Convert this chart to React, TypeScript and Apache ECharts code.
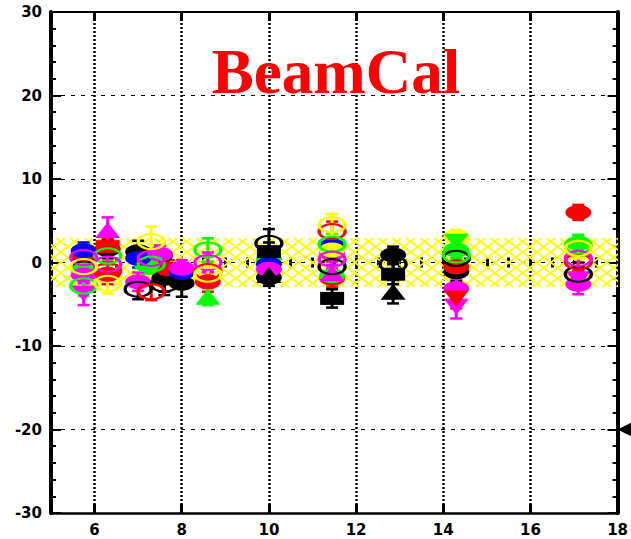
import React, { useEffect, useRef } from "react";
import * as echarts from "echarts";

// Each point: [x, y, error]
type Pt = [number, number, number];

const xMajorTicks = [6, 8, 10, 12, 14, 16];
const xTickLabels = [6, 8, 10, 12, 14, 16, 18];
const xGridValues = [6, 8, 10, 12, 14, 16];
const yGridValues = [-20, -10, 0, 10, 20];
const bandX = [5, 18];
const bandLimits = [-2.9, 2.9];

// filled circles
const blackDot: Pt[] = [[5.75, 0.2, 1.3], [6.3, 1.6, 1.1], [7.0, 1.3, 1.3], [7.5, 0.8, 1.2], [7.6, -1.9, 1.6], [8.0, -2.5, 1.6], [10.0, -1.8, 1.0], [12.85, 0.9, 1.0], [14.3, -1.1, 1.1]];
const redDot: Pt[] = [[5.75, 1.0, 1.0], [6.3, -1.4, 1.2], [7.7, -0.8, 1.1], [8.6, -2.3, 1.2], [11.45, -1.9, 1.0], [14.3, -0.5, 1.0], [17.1, 6.0, 0.9]];
const greenDot: Pt[] = [[5.75, -0.9, 1.1], [7.2, -0.3, 1.0], [10.0, 0.4, 0.9], [11.45, -1.6, 1.0], [14.3, 1.5, 1.0], [17.1, 2.3, 1.0]];
const blueDot: Pt[] = [[5.75, 1.4, 1.0], [7.0, 0.5, 1.1], [8.0, -1.2, 1.0], [10.0, -0.2, 0.9], [11.45, 2.0, 1.0]];
const magentaDot: Pt[] = [[5.75, -1.5, 1.0], [7.0, -2.3, 1.1], [7.5, 1.0, 1.0], [8.0, -0.7, 1.0], [10.0, -0.8, 0.9], [11.45, 1.1, 1.0], [14.3, -3.1, 1.2], [17.1, -2.6, 1.2]];
const yellowDot: Pt[] = [[14.3, 3.1, 0.8], [11.45, 1.5, 0.9]];

// filled squares and triangles
const blackBox: Pt[] = [[10.0, 1.3, 1.1], [11.45, -4.3, 1.1], [12.85, -1.4, 1.2]];
const redBox: Pt[] = [[6.3, 1.9, 1.0]];
const magentaUp: Pt[] = [[6.3, 3.9, 1.5], [11.45, -1.3, 1.0]];
const greenUp: Pt[] = [[8.6, -4.1, 1.0]];
const blackUp: Pt[] = [[10.0, -1.5, 1.0], [12.85, -3.5, 1.4]];
const magentaDown: Pt[] = [[5.75, -3.7, 1.4], [14.3, -5.3, 1.4], [17.1, -2.0, 1.1]];
const redDown: Pt[] = [[14.3, -4.3, 1.2]];
const greenDown: Pt[] = [[14.3, 2.5, 1.0]];

// open circles
const blackRing: Pt[] = [[7.0, -3.2, 1.2], [7.6, -2.6, 1.3], [10.0, 2.3, 1.7], [11.45, -0.5, 1.1], [12.85, -0.2, 1.2], [14.3, 0.5, 1.1], [17.1, -1.4, 1.4]];
const redRing: Pt[] = [[6.3, -1.0, 1.1], [7.3, -3.5, 1.0], [8.6, -1.1, 1.1], [11.45, 3.7, 1.2], [17.1, 0.1, 1.1]];
const greenRing: Pt[] = [[5.75, -2.8, 1.2], [6.3, 0.8, 1.1], [7.3, -0.2, 1.1], [8.6, 1.5, 1.4], [11.45, 2.2, 1.2], [14.3, 0.9, 1.2], [17.1, 2.0, 1.3]];
const magentaRing: Pt[] = [[5.75, 0.6, 1.1], [6.3, -0.2, 1.2], [7.3, 0.5, 1.2], [8.6, 0.0, 1.2], [11.45, 0.4, 1.2], [17.1, 0.5, 1.2]];
const yellowRing: Pt[] = [[5.75, -0.5, 1.1], [6.3, -2.5, 1.2], [7.3, 2.5, 1.8], [8.6, -1.4, 1.2], [11.45, 4.5, 1.3], [17.1, 1.7, 1.2]];

// marker sitting past the right edge of the frame
const strayMarker: Pt[] = [[18.25, -20, 0]];

const BLACK = "#000000";
const RED = "#ff0000";
const GREEN = "#00ff00";
const BLUE = "#0000ff";
const MAGENTA = "#ff00ff";
const YELLOW = "#ffff00";

type Style = { data: Pt[]; color: string; symbol: string; filled: boolean; rotate: number };

const groups: Style[] = [
  { data: blackDot, color: BLACK, symbol: "circle", filled: true, rotate: 0 },
  { data: redDot, color: RED, symbol: "circle", filled: true, rotate: 0 },
  { data: greenDot, color: GREEN, symbol: "circle", filled: true, rotate: 0 },
  { data: blueDot, color: BLUE, symbol: "circle", filled: true, rotate: 0 },
  { data: magentaDot, color: MAGENTA, symbol: "circle", filled: true, rotate: 0 },
  { data: yellowDot, color: YELLOW, symbol: "circle", filled: true, rotate: 0 },
  { data: blackBox, color: BLACK, symbol: "rect", filled: true, rotate: 0 },
  { data: redBox, color: RED, symbol: "rect", filled: true, rotate: 0 },
  { data: magentaUp, color: MAGENTA, symbol: "triangle", filled: true, rotate: 0 },
  { data: greenUp, color: GREEN, symbol: "triangle", filled: true, rotate: 0 },
  { data: blackUp, color: BLACK, symbol: "triangle", filled: true, rotate: 0 },
  { data: magentaDown, color: MAGENTA, symbol: "triangle", filled: true, rotate: 180 },
  { data: redDown, color: RED, symbol: "triangle", filled: true, rotate: 180 },
  { data: greenDown, color: GREEN, symbol: "triangle", filled: true, rotate: 180 },
  { data: blackRing, color: BLACK, symbol: "circle", filled: false, rotate: 0 },
  { data: redRing, color: RED, symbol: "circle", filled: false, rotate: 0 },
  { data: greenRing, color: GREEN, symbol: "circle", filled: false, rotate: 0 },
  { data: magentaRing, color: MAGENTA, symbol: "circle", filled: false, rotate: 0 },
  { data: yellowRing, color: YELLOW, symbol: "circle", filled: false, rotate: 0 },
];

const labelFont = {
  color: BLACK,
  fontFamily: "DejaVu Sans",
  fontWeight: "bold" as const,
  fontSize: 15,
};

function errorBarSeries(g: Style) {
  return {
    type: "custom",
    silent: true,
    clip: true,
    xAxisIndex: 0,
    yAxisIndex: 0,
    encode: { x: 0, y: 1 },
    data: g.data,
    renderItem: (_p: any, api: any) => {
      const x = api.value(0);
      const y = api.value(1);
      const e = api.value(2);
      const top = api.coord([x, y + e]);
      const bot = api.coord([x, y - e]);
      const hw = 6;
      const st = { stroke: g.color, lineWidth: 2.5 };
      return {
        type: "group",
        children: [
          { type: "line", shape: { x1: top[0], y1: top[1], x2: bot[0], y2: bot[1] }, style: { stroke: g.color, lineWidth: 3 } },
          { type: "line", shape: { x1: top[0] - hw, y1: top[1], x2: top[0] + hw, y2: top[1] }, style: st },
          { type: "line", shape: { x1: bot[0] - hw, y1: bot[1], x2: bot[0] + hw, y2: bot[1] }, style: st },
        ],
      };
    },
  };
}

function markerSeries(g: Style) {
  const isTri = g.symbol === "triangle";
  const isBox = g.symbol === "rect";
  return {
    type: "scatter",
    silent: true,
    xAxisIndex: 0,
    yAxisIndex: 0,
    data: g.data.map((p) => [p[0], p[1]]),
    symbol: g.symbol,
    symbolRotate: g.rotate,
    symbolSize: isTri ? [25, 16] : isBox ? [24, 13] : [26, 15],
    itemStyle: g.filled
      ? { color: g.color, opacity: 1 }
      : { color: "rgba(0,0,0,0)", borderColor: g.color, borderWidth: 2.6, opacity: 1 },
  };
}

const hatchSeries = {
  type: "custom",
  silent: true,
  clip: true,
  xAxisIndex: 0,
  yAxisIndex: 0,
  data: [[bandX[0], bandLimits[0], bandX[1], bandLimits[1]]],
  encode: { x: [0, 2], y: [1, 3] },
  renderItem: (_p: any, api: any) => {
    const a = api.coord([api.value(0), api.value(3)]);
    const b = api.coord([api.value(2), api.value(1)]);
    const yT = a[1];
    const yB = b[1];
    const run = (yB - yT) / 0.75;
    const step = 14;
    const st = { stroke: YELLOW, lineWidth: 1.8 };
    const children: any[] = [];
    for (let x = a[0] - run; x <= b[0] + run; x += step) {
      children.push({ type: "line", shape: { x1: x, y1: yT, x2: x + run, y2: yB }, style: st });
      children.push({ type: "line", shape: { x1: x + run, y1: yT, x2: x, y2: yB }, style: st });
    }
    return { type: "group", children };
  },
};

const gridLineSeries = {
  type: "scatter",
  silent: true,
  xAxisIndex: 0,
  yAxisIndex: 0,
  data: [] as number[][],
  markLine: {
    silent: true,
    z: 1,
    symbol: ["none", "none"],
    label: { show: false },
    data: [
      ...xGridValues.map((v) => ({ xAxis: v, lineStyle: { color: BLACK, type: [2, 2], width: 2.5 } })),
      ...yGridValues.map((v) => ({ yAxis: v, lineStyle: { color: BLACK, type: [4, 6], width: 1.2 } })),
    ],
  },
};

const strayMarkerSeries = {
  type: "scatter",
  silent: true,
  clip: false,
  xAxisIndex: 0,
  yAxisIndex: 0,
  data: strayMarker.map((p) => [p[0], p[1]]),
  symbol: "triangle",
  symbolRotate: 90,
  symbolSize: [22, 22],
  itemStyle: { color: BLACK, opacity: 1 },
};

const series: any[] = [gridLineSeries, hatchSeries];
groups.forEach((g) => {
  series.push(errorBarSeries(g));
  series.push(markerSeries(g));
});
series.push(strayMarkerSeries);

const option = {
  animation: false,
  backgroundColor: "#ffffff",
  grid: { left: 51, right: 10, top: 12, bottom: 26, containLabel: false },
  xAxis: [
    {
      type: "value",
      min: 5,
      max: 18,
      position: "bottom",
      axisLine: { show: true, onZero: false, lineStyle: { color: BLACK, width: 2.5 } },
      axisTick: { show: true, inside: true, length: 9, customValues: xMajorTicks, lineStyle: { color: BLACK, width: 3 } },
      axisLabel: { show: true, customValues: xTickLabels, margin: 9, ...labelFont },
      splitLine: { show: false },
    },
    {
      type: "value",
      min: 5,
      max: 18,
      interval: 0.5,
      position: "bottom",
      axisLine: { show: false },
      axisTick: { show: true, inside: true, length: 5, lineStyle: { color: BLACK, width: 3 } },
      axisLabel: { show: false },
      splitLine: { show: false },
    },
    {
      type: "value",
      min: 5,
      max: 18,
      position: "top",
      axisLine: { show: true, onZero: false, lineStyle: { color: BLACK, width: 2 } },
      axisTick: { show: true, inside: true, length: 9, customValues: xMajorTicks, lineStyle: { color: BLACK, width: 3 } },
      axisLabel: { show: false },
      splitLine: { show: false },
    },
    {
      type: "value",
      min: 5,
      max: 18,
      interval: 0.5,
      position: "top",
      axisLine: { show: false },
      axisTick: { show: true, inside: true, length: 5, lineStyle: { color: BLACK, width: 3 } },
      axisLabel: { show: false },
      splitLine: { show: false },
    },
  ],
  yAxis: [
    {
      type: "value",
      min: -30,
      max: 30,
      interval: 10,
      position: "left",
      axisLine: { show: true, onZero: false, lineStyle: { color: BLACK, width: 4 } },
      axisTick: { show: true, inside: true, length: 10, lineStyle: { color: BLACK, width: 2 } },
      minorTick: { show: true, splitNumber: 5, length: 5, lineStyle: { color: BLACK, width: 2 } },
      axisLabel: { show: true, margin: 9, ...labelFont },
      splitLine: { show: false },
    },
    {
      type: "value",
      min: -30,
      max: 30,
      interval: 10,
      position: "right",
      axisLine: { show: true, onZero: false, lineStyle: { color: BLACK, width: 4 } },
      axisTick: { show: true, inside: true, length: 10, lineStyle: { color: BLACK, width: 2 } },
      minorTick: { show: true, splitNumber: 5, length: 5, lineStyle: { color: BLACK, width: 2 } },
      axisLabel: { show: false },
      splitLine: { show: false },
    },
  ],
  graphic: [
    {
      type: "text",
      x: 336,
      y: 72,
      z: 100,
      silent: true,
      style: {
        text: "BeamCal",
        font: 'bold 63px "Liberation Serif"',
        fill: RED,
        align: "center",
        verticalAlign: "middle",
      },
    },
  ],
  series,
};

export default function App() {
  const ref = useRef<HTMLDivElement>(null);
  useEffect(() => {
    document.body.style.margin = "0";
    const chart = echarts.init(ref.current!, null, { renderer: "svg" });
    chart.setOption(option as any);
    return () => chart.dispose();
  }, []);
  return <div ref={ref} style={{ width: 631, height: 539, background: "#ffffff" }} />;
}
